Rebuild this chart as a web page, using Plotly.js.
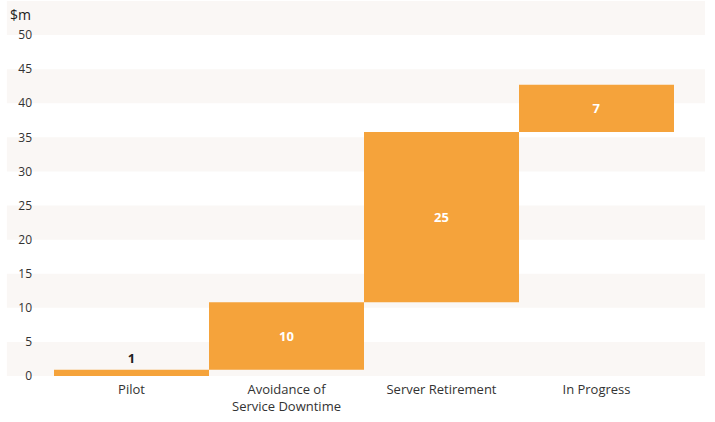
<!DOCTYPE html>
<html>
<head>
<meta charset="utf-8">
<script src="https://cdn.plot.ly/plotly-3.0.1.min.js"></script>
<style>html,body{margin:0;padding:0;background:#fff;}#chart{width:715px;height:422px;}</style>
</head>
<body>
<div id="chart"></div>
<script>
const categories = ["Pilot", "Avoidance of<br>Service Downtime", "Server Retirement", "In Progress"];
const values = [0.9, 9.9, 25, 6.9];
const labels = ["1", "10", "25", "7"];
const yTicks = [0, 5, 10, 15, 20, 25, 30, 35, 40, 45, 50];
const bandStarts = [0, 10, 20, 30, 40, 50];

const shapes = bandStarts.map(b => ({
  type: "rect", xref: "paper", yref: "y",
  x0: -0.076, x1: 1.05, y0: b, y1: b + 5,
  fillcolor: "#faf7f5", line: {width: 0}, layer: "below"
}));

const trace = {
  type: "waterfall",
  x: categories,
  y: values,
  measure: values.map(() => "relative"),
  text: labels,
  textposition: ["outside", "inside", "inside", "inside"],
  insidetextanchor: "middle",
  insidetextfont: {color: "#ffffff", size: 13, family: "Open Sans", weight: "bold"},
  outsidetextfont: {color: "#222222", size: 13, family: "Open Sans", weight: "bold"},
  textangle: 0,
  cliponaxis: false,
  increasing: {marker: {color: "#f5a33b", line: {width: 0}}},
  decreasing: {marker: {color: "#f5a33b", line: {width: 0}}},
  connector: {visible: false},
  hoverinfo: "none"
};

const layout = {
  width: 715, height: 422,
  margin: {l: 54, r: 41, t: 1, b: 46},
  paper_bgcolor: "#ffffff",
  plot_bgcolor: "rgba(0,0,0,0)",
  showlegend: false,
  waterfallgap: 0,
  font: {family: "Open Sans", size: 12, color: "#333333"},
  xaxis: {
    showgrid: false, zeroline: false, showline: false, ticks: "",
    ticklabelstandoff: 4,
    tickfont: {size: 13, color: "#333333"},
    fixedrange: true
  },
  yaxis: {
    range: [0, 55], tickvals: yTicks, ticktext: yTicks.map(String),
    showgrid: false, zeroline: false, showline: false, ticks: "",
    ticklabelstandoff: 21,
    tickfont: {size: 12, color: "#333333"},
    fixedrange: true
  },
  shapes: shapes,
  annotations: [{
    text: "$m", xref: "paper", yref: "y", x: -0.075, y: 53,
    xanchor: "left", yanchor: "middle", showarrow: false,
    font: {size: 14, color: "#222222"}
  }]
};

Plotly.newPlot("chart", [trace], layout, {displayModeBar: false, staticPlot: true});
</script>
</body>
</html>
